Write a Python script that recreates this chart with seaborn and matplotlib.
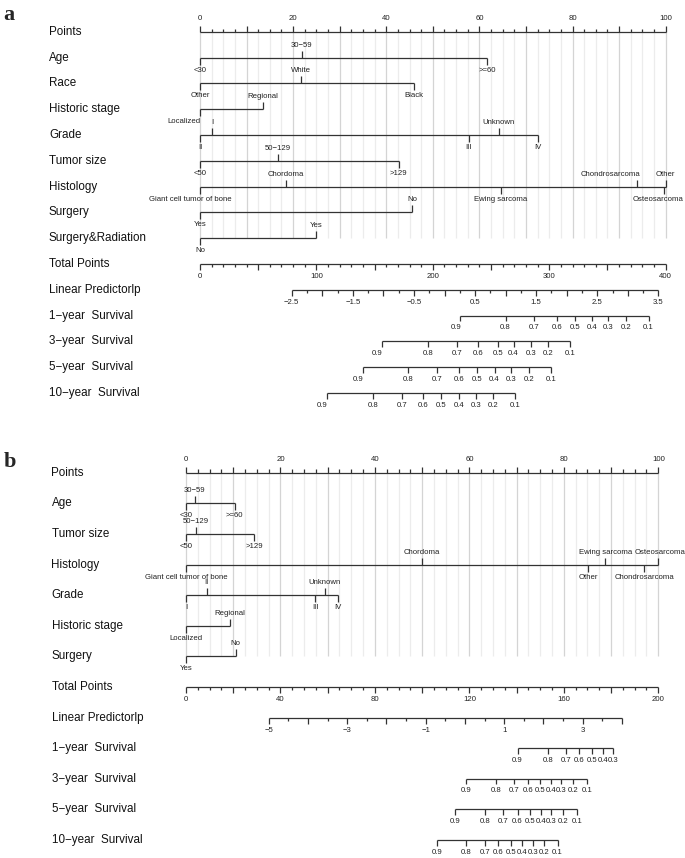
import numpy as np
import seaborn as sns
import matplotlib.pyplot as plt

M = "\u2212"  # R prints a real minus sign

# ---------------- panel a: points per level ----------------
A_AGE = ["<30", "30" + M + "59", ">=60"]
A_AGE_PTS = [0, 21.9, 61.7]
A_RACE = ["Other", "White", "Black"]
A_RACE_PTS = [0, 21.6, 46.0]
A_STAGE = ["Localized", "Regional"]
A_STAGE_PTS = [0, 13.5]
A_GRADE = ["II", "I", "III", "Unknown", "IV"]
A_GRADE_PTS = [0, 2.6, 57.7, 64.2, 72.5]
A_SIZE = ["<50", "50" + M + "129", ">129"]
A_SIZE_PTS = [0, 16.8, 42.7]
A_HIST = ["Giant cell tumor of bone", "Chordoma", "Ewing sarcoma",
          "Chondrosarcoma", "Osteosarcoma", "Other"]
A_HIST_PTS = [0, 18.5, 64.6, 93.9, 99.7, 100]
A_SURG = ["Yes", "No"]
A_SURG_PTS = [0, 45.6]
A_SURGRAD = ["No", "Yes"]
A_SURGRAD_PTS = [0, 25.0]

A_TOTAL_MAX = 400
A_LP_RANGE = [-2.5, 3.5]
A_LP_TOTAL = [78.8, 393.7]   # total points at both ends of the lp scale

SURV_PROBS = [0.9, 0.8, 0.7, 0.6, 0.5, 0.4, 0.3, 0.2, 0.1]
A_SURV_1Y = [0.26, 1.00, 1.47, 1.84, 2.14, 2.41, 2.68, 2.97, 3.34]
A_SURV_3Y = [-1.03, -0.27, 0.20, 0.55, 0.87, 1.13, 1.41, 1.70, 2.06]
A_SURV_5Y = [-1.34, -0.59, -0.12, 0.24, 0.54, 0.82, 1.09, 1.39, 1.74]
A_SURV_10Y = [-1.93, -1.17, -0.70, -0.35, -0.05, 0.24, 0.51, 0.80, 1.15]

# ---------------- panel b: points per level ----------------
B_AGE = ["<30", "30" + M + "59", ">=60"]
B_AGE_PTS = [0, 1.8, 10.3]
B_SIZE = ["<50", "50" + M + "129", ">129"]
B_SIZE_PTS = [0, 2.1, 14.4]
B_HIST = ["Giant cell tumor of bone", "Chordoma", "Other", "Ewing sarcoma",
          "Chondrosarcoma", "Osteosarcoma"]
B_HIST_PTS = [0, 49.9, 85.2, 88.8, 97.0, 100]
B_GRADE = ["I", "II", "III", "Unknown", "IV"]
B_GRADE_PTS = [0, 4.4, 27.4, 29.4, 32.1]
B_STAGE = ["Localized", "Regional"]
B_STAGE_PTS = [0, 9.3]
B_SURG = ["Yes", "No"]
B_SURG_PTS = [0, 10.5]

B_TOTAL_MAX = 200
B_LP_RANGE = [-5, 4]
B_LP_TOTAL = [35.0, 184.6]

B_SURV_1Y_PROBS = [0.9, 0.8, 0.7, 0.6, 0.5, 0.4, 0.3]
B_SURV_1Y = [1.34, 2.11, 2.57, 2.91, 3.23, 3.51, 3.78]
B_SURV_3Y = [0.04, 0.79, 1.26, 1.61, 1.91, 2.19, 2.46, 2.76, 3.12]
B_SURV_5Y = [-0.24, 0.51, 0.98, 1.34, 1.66, 1.94, 2.19, 2.49, 2.86]
B_SURV_10Y = [-0.72, 0.03, 0.51, 0.85, 1.17, 1.45, 1.73, 2.01, 2.36]

SURV_NAMES = ["1" + M + "year  Survival", "3" + M + "year  Survival",
              "5" + M + "year  Survival", "10" + M + "year  Survival"]

W, H = 685, 858
LINE = "#333333"
TXT = "#222222"
LW = 0.9
SMALL = 5.6
BIG = 8.4


def fmt(v):
    s = f"{v:g}"
    return s.replace("-", M)


def setup_axes(fig, top_px, bot_px, x0_px, px_pt, y0_px, px_row):
    ax = fig.add_axes([0, 1 - bot_px / H, 1, (bot_px - top_px) / H])
    ax.set_xlim(-x0_px / px_pt, (W - x0_px) / px_pt)
    ax.set_ylim((bot_px - y0_px) / px_row, (top_px - y0_px) / px_row)
    ax.axis("off")
    return ax


def draw_scale(ax, row, xs, lens, labels, sides, px_row, px_pt, lab_off=12.5, nudge=None):
    xs = np.asarray(xs, float)
    n = len(xs)
    lens = np.broadcast_to(lens, n)
    sides = np.broadcast_to(sides, n)
    nudge = nudge or {}
    ax.hlines(row, xs.min(), xs.max(), color=LINE, lw=LW, zorder=2)
    for i, (x, ln, lab, s) in enumerate(zip(xs, lens, labels, sides)):
        ax.vlines(x, row, row - s * ln / px_row, color=LINE, lw=LW, zorder=2)
        if lab:
            dx = nudge.get(lab, nudge.get(i, 0)) / px_pt
            ax.text(x + dx, row - s * lab_off / px_row, lab, ha="center", va="center",
                    fontsize=SMALL, color=TXT, zorder=3)


def draw_panel(fig, p):
    px_pt, px_row = p["px_pt"], p["px_row"]
    ax = setup_axes(fig, p["top"], p["bot"], p["x0"], px_pt, p["y0"], px_row)
    label_x = (p["label_x"] - p["x0"]) / px_pt
    preds = p["predictors"]
    n_pred = len(preds)

    # grid behind the predictor rows
    grid = np.arange(0, 100.01, 2.5)
    for g in grid:
        col = "#d4d4d4" if g % 10 == 0 else "#ececec"
        ax.vlines(g, 0, n_pred, color=col, lw=0.9, zorder=0)

    rows = ["Points"] + [v[0] for v in preds] + ["Total Points", "Linear Predictorlp"] + SURV_NAMES
    for r, name in enumerate(rows):
        ax.text(label_x, r, name, ha="left", va="center", fontsize=BIG, color="#111111")

    # points scale
    draw_scale(ax, 0, grid, [5.5 if g % 10 == 0 else 3.2 for g in grid],
               [fmt(g) if g % 20 == 0 else "" for g in grid], 1, px_row, px_pt, lab_off=13)

    # predictors: labels alternate below / above along the line
    for r, (name, levels, pts) in enumerate(preds, start=1):
        order = np.argsort(pts, kind="stable")
        xs = np.asarray(pts)[order]
        labs = [levels[i] for i in order]
        sides = [-1 if k % 2 == 0 else 1 for k in range(len(xs))]
        draw_scale(ax, r, xs, 7, labs, sides, px_row, px_pt, lab_off=12.5, nudge=p["nudge"])

    tot_max = p["total_max"]
    r_tot = n_pred + 1
    tot = np.arange(0, tot_max + 0.01, p["total_step"])
    draw_scale(ax, r_tot, tot / tot_max * 100,
               [6 if t % p["total_major"] == 0 else 3.5 for t in tot],
               [fmt(t) if t % p["total_label"] == 0 else "" for t in tot], -1, px_row, px_pt)

    lo, hi = p["lp_range"]
    t0, t1 = p["lp_total"]

    def lp_to_x(lp):
        lp = np.asarray(lp, float)
        return (t0 + (lp - lo) / (hi - lo) * (t1 - t0)) / tot_max * 100

    def on_step(v, step):
        q = (v - lo) / step
        return abs(q - round(q)) < 1e-6

    lps = np.arange(lo, hi + 1e-9, p["lp_step"])
    draw_scale(ax, r_tot + 1, lp_to_x(lps),
               [6 if on_step(l, p["lp_major"]) else 3.5 for l in lps],
               [fmt(round(l, 2)) if on_step(l, p["lp_label"]) else "" for l in lps],
               -1, px_row, px_pt)

    for k, (probs, lpv) in enumerate(p["survival"]):
        draw_scale(ax, r_tot + 2 + k, lp_to_x(lpv), 5.5, [fmt(v) for v in probs], -1,
                   px_row, px_pt, lab_off=12, nudge={0: p["first_nudge"]})
    return ax


sns.set_theme(style="white")
plt.rcParams["font.family"] = ["Liberation Sans", "DejaVu Sans"]

fig = plt.figure(figsize=(W / 100, H / 100), dpi=100)

panel_a = dict(
    top=0, bot=420, x0=200, px_pt=4.657, y0=31.7, px_row=25.81, label_x=49,
    predictors=[("Age", A_AGE, A_AGE_PTS), ("Race", A_RACE, A_RACE_PTS),
                ("Historic stage", A_STAGE, A_STAGE_PTS), ("Grade", A_GRADE, A_GRADE_PTS),
                ("Tumor size", A_SIZE, A_SIZE_PTS), ("Histology", A_HIST, A_HIST_PTS),
                ("Surgery", A_SURG, A_SURG_PTS), ("Surgery&Radiation", A_SURGRAD, A_SURGRAD_PTS)],
    total_max=A_TOTAL_MAX, total_step=10, total_major=50, total_label=100,
    lp_range=A_LP_RANGE, lp_total=A_LP_TOTAL,
    lp_step=0.25, lp_major=0.5, lp_label=1.0,
    survival=[(SURV_PROBS, A_SURV_1Y), (SURV_PROBS, A_SURV_3Y),
              (SURV_PROBS, A_SURV_5Y), (SURV_PROBS, A_SURV_10Y)],
    nudge={"Localized": -16, "Giant cell tumor of bone": -10, "Osteosarcoma": -6,
           "Chondrosarcoma": -27},
    first_nudge=-4,
)

panel_b = dict(
    top=420, bot=H, x0=186, px_pt=4.723, y0=472.7, px_row=30.61, label_x=51.5,
    predictors=[("Age", B_AGE, B_AGE_PTS), ("Tumor size", B_SIZE, B_SIZE_PTS),
                ("Histology", B_HIST, B_HIST_PTS), ("Grade", B_GRADE, B_GRADE_PTS),
                ("Historic stage", B_STAGE, B_STAGE_PTS), ("Surgery", B_SURG, B_SURG_PTS)],
    total_max=B_TOTAL_MAX, total_step=5, total_major=20, total_label=40,
    lp_range=B_LP_RANGE, lp_total=B_LP_TOTAL,
    lp_step=0.5, lp_major=1.0, lp_label=2.0,
    survival=[(B_SURV_1Y_PROBS, B_SURV_1Y), (SURV_PROBS, B_SURV_3Y),
              (SURV_PROBS, B_SURV_5Y), (SURV_PROBS, B_SURV_10Y)],
    nudge={"Osteosarcoma": 2},
    first_nudge=0,
)

draw_panel(fig, panel_a)
draw_panel(fig, panel_b)

fig.text(3 / W, 1 - 19.5 / H, "a", fontsize=16, fontweight="bold",
         family=["Liberation Serif", "DejaVu Serif"], va="baseline", ha="left")
fig.text(4 / W, 1 - 466.5 / H, "b", fontsize=16, fontweight="bold",
         family=["Liberation Serif", "DejaVu Serif"], va="baseline", ha="left")

fig.savefig("out.png", dpi=100)
